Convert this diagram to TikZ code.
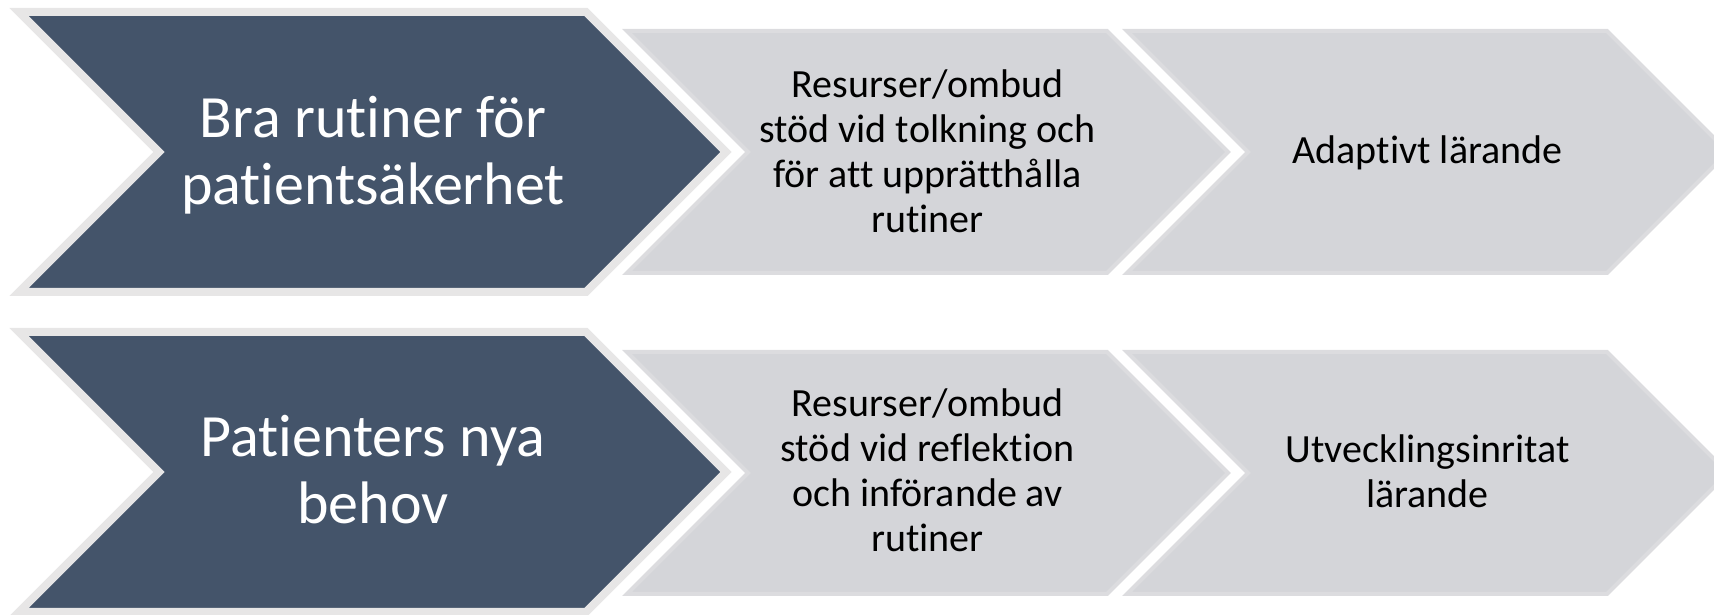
\documentclass[tikz,border=0pt]{standalone}
\usepackage{fontspec}
\setmainfont{Carlito}[Ligatures=NoCommon]
\definecolor{pathnavy}{RGB}{68,84,106}
\definecolor{pathrim}{RGB}{231,230,230}
\definecolor{pathgray}{RGB}{212,213,217}
\definecolor{pathgrayrim}{RGB}{220,220,223}
% chevron: left x, right x of body, centre y, half height
\newcommand{\chev}[4]{(#1,#3+#4) -- (#2,#3+#4) -- (#2+#4,#3) -- (#2,#3-#4) -- (#1,#3-#4) -- (#1+#4,#3) -- cycle}

\begin{document}
\begin{tikzpicture}[x=0.5pt, y=0.5pt,
      lead/.style={fill=pathnavy, draw=pathrim, line width=4pt, line join=miter},
      stage/.style={fill=pathgray, draw=pathgrayrim, line width=2pt, line join=miter},
      leadtext/.style={align=center, text=white, inner sep=0pt, font=\fontsize{30}{33.5}\selectfont},
      stagetext/.style={align=center, text=black, inner sep=0pt, font=\fontsize{20}{22.5}\selectfont}
    ]
      \useasboundingbox (0,0) rectangle (1714,615);
      \begin{scope}
        \clip (0,0) rectangle (1714,615);
        % row 1
        \draw[lead] \chev{19}{586}{463}{140};
        \draw[stage] \chev{627}{1107}{463}{121};
        \draw[stage] \chev{1127}{1607}{463}{121};
        % row 2
        \draw[lead] \chev{19}{586}{143}{140};
        \draw[stage] \chev{627}{1107}{142}{121};
        \draw[stage] \chev{1127}{1607}{142}{121};
      \end{scope}

      \node[leadtext] (brarutiner) at (373,460) {Bra rutiner för\\patientsäkerhet};
      \node[stagetext] (resurser1) at (927.5,464) {Resurser/ombud\\stöd vid tolkning och\\för att upprätthålla\\rutiner};
      \node[stagetext] (adaptivt) at (1427.5,462) {Adaptivt lärande};

      \node[leadtext] (patientbehov) at (373,145) {Patienters nya\\behov};
      \node[stagetext] (resurser2) at (927.5,145) {Resurser/ombud\\stöd vid reflektion\\och införande av\\rutiner};
      \node[stagetext] (utveckling) at (1427.5,144) {Utvecklingsinritat\\lärande};
    \end{tikzpicture}
\end{document}
